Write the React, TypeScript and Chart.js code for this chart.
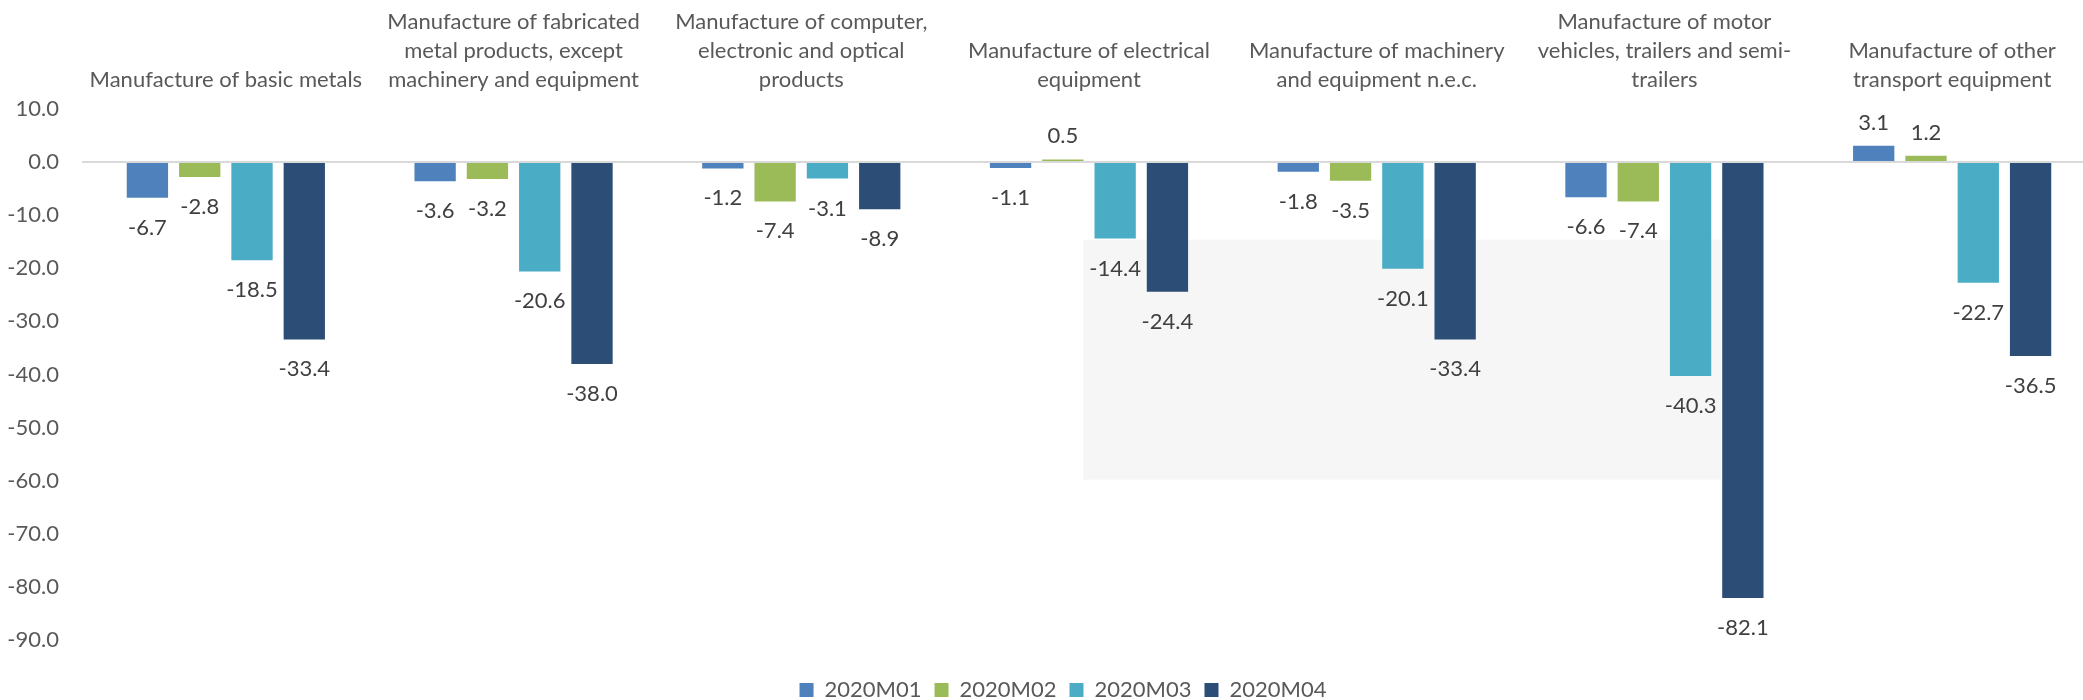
import React, { useEffect, useRef } from "react";
import { Chart, registerables } from "chart.js";

Chart.register(...registerables);

// ---- Data ----
const categories: string[][] = [
  ["Manufacture of basic metals"],
  ["Manufacture of fabricated", "metal products, except", "machinery and equipment"],
  ["Manufacture of computer,", "electronic and optical", "products"],
  ["Manufacture of electrical", "equipment"],
  ["Manufacture of machinery", "and equipment n.e.c."],
  ["Manufacture of motor", "vehicles, trailers and semi-", "trailers"],
  ["Manufacture of other", "transport equipment"],
];

const seriesNames = ["2020M01", "2020M02", "2020M03", "2020M04"];

const values2020M01 = [-6.7, -3.6, -1.2, -1.1, -1.8, -6.6, 3.1];
const values2020M02 = [-2.8, -3.2, -7.4, 0.5, -3.5, -7.4, 1.2];
const values2020M03 = [-18.5, -20.6, -3.1, -14.4, -20.1, -40.3, -22.7];
const values2020M04 = [-33.4, -38.0, -8.9, -24.4, -33.4, -82.1, -36.5];

const yTickValues = [10, 0, -10, -20, -30, -40, -50, -60, -70, -80, -90];

const seriesColors = ["#4f81bd", "#9bbb59", "#4bacc6", "#2c4d75"];

// light grey panel seen behind the middle of the plot (in category-index / value units)
const shadePanel = { fromIndex: 2.98, toIndex: 5.198, fromValue: -14.6, toValue: -59.8, color: "#f6f6f6" };

const FONT_FAMILY = "Lato, 'Open Sans', 'DejaVu Sans', sans-serif";
const FONT_SIZE = 22;
const TEXT_GREY = "#595959";
const LABEL_DARK = "#404040";

// the original chart is slightly wider than the visible picture (cropped on the right)
const CANVAS_W = 2126;
const VIEW_W = 2083;
const VIEW_H = 700;

const shadePlugin = {
  id: "shadePanel",
  beforeDatasetsDraw(chart: any) {
    const { ctx, scales } = chart;
    const x = scales.x;
    const y = scales.y;
    const x0 = x.getPixelForValue(shadePanel.fromIndex);
    const x1 = x.getPixelForValue(shadePanel.toIndex);
    const y0 = y.getPixelForValue(shadePanel.fromValue);
    const y1 = y.getPixelForValue(shadePanel.toValue);
    ctx.save();
    ctx.fillStyle = shadePanel.color;
    ctx.fillRect(x0, y0, x1 - x0, y1 - y0);
    ctx.restore();
  },
};

// let the y tick labels use the empty margin on the left (avoid label clipping)
const widenYLabelArea = {
  id: "widenYLabelArea",
  afterLayout(chart: any) {
    const y = chart.scales.y;
    if (y) y.left = 0;
  },
};

const valueLabelPlugin = {
  id: "valueLabels",
  afterDatasetsDraw(chart: any) {
    const { ctx } = chart;
    ctx.save();
    ctx.font = `${FONT_SIZE}px ${FONT_FAMILY}`;
    ctx.fillStyle = LABEL_DARK;
    ctx.textAlign = "center";
    ctx.textBaseline = "alphabetic";
    chart.data.datasets.forEach((ds: any, di: number) => {
      const meta = chart.getDatasetMeta(di);
      meta.data.forEach((el: any, i: number) => {
        const v = ds.data[i] as number;
        const text = v.toFixed(1);
        const digitHalf = 8;
        const yPos = v < 0 ? el.y + 29 + digitHalf : el.y - 24 + digitHalf;
        ctx.fillText(text, el.x, yPos);
      });
    });
    ctx.restore();
  },
};

export default function App() {
  const canvasRef = useRef<HTMLCanvasElement | null>(null);

  useEffect(() => {
    document.body.style.margin = "0";
    const canvas = canvasRef.current;
    if (!canvas) return;
    const seriesValues = [values2020M01, values2020M02, values2020M03, values2020M04];
    const font = { family: FONT_FAMILY, size: FONT_SIZE };

    const chart = new Chart(canvas, {
      type: "bar",
      data: {
        labels: categories,
        datasets: seriesNames.map((name, i) => ({
          label: name,
          data: seriesValues[i],
          backgroundColor: seriesColors[i],
          borderWidth: 0,
          categoryPercentage: 0.727,
          barPercentage: 0.79,
        })),
      },
      options: {
        animation: false,
        responsive: false,
        layout: { padding: { top: -8, left: 30, right: 30, bottom: -11 } },
        plugins: {
          legend: {
            position: "bottom",
            title: { display: true, text: "", font: { size: 10 }, padding: 7 },
            labels: {
              boxWidth: 14,
              boxHeight: 14,
              padding: 13,
              color: TEXT_GREY,
              font,
            },
          },
          tooltip: { enabled: false },
          title: { display: false },
        },
        scales: {
          x: {
            type: "category",
            position: "top",
            offset: true,
            grid: { display: false, drawTicks: false },
            border: { display: false },
            afterFit(scale: any) {
              scale.paddingLeft = 0;
              scale.paddingRight = 0;
            },
            ticks: {
              color: TEXT_GREY,
              font: { ...font, lineHeight: 29 / FONT_SIZE },
              padding: 15,
              maxRotation: 0,
              minRotation: 0,
              autoSkip: false,
            },
          },
          y: {
            type: "linear",
            min: -90,
            max: 10,
            afterBuildTicks(scale: any) {
              scale.ticks = yTickValues.map((v) => ({ value: v }));
            },
            afterFit(scale: any) {
              scale.width = 52;
            },
            grid: {
              drawTicks: false,
              color: (c: any) => (c.tick && c.tick.value === 0 ? "#d9d9d9" : "rgba(0,0,0,0)"),
              lineWidth: 2,
            },
            border: { display: false },
            ticks: {
              color: TEXT_GREY,
              font,
              padding: 23,
              callback: (v: any) => Number(v).toFixed(1),
            },
          },
        },
      },
      plugins: [widenYLabelArea, shadePlugin, valueLabelPlugin],
    } as any);

    return () => chart.destroy();
  }, []);

  return (
    <div style={{ width: VIEW_W, height: VIEW_H, overflow: "hidden" }}>
      <canvas ref={canvasRef} width={CANVAS_W} height={VIEW_H} style={{ display: "block" }} />
    </div>
  );
}
